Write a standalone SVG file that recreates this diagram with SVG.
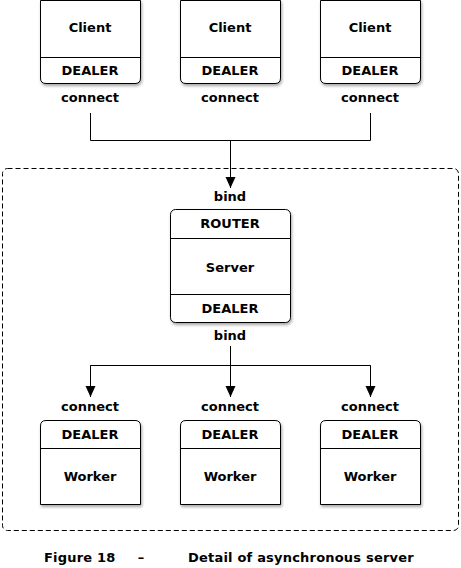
<svg xmlns="http://www.w3.org/2000/svg" width="461" height="568" viewBox="0 0 461 568">
<defs>
<style>
text{font-family:"DejaVu Sans","Liberation Sans",sans-serif;font-weight:bold;font-size:13px;fill:#000;text-anchor:middle}
.box{fill:#fff;stroke:#000;stroke-width:1}
.div{stroke:#000;stroke-width:1;fill:none}
.conn{stroke:#000;stroke-width:1;fill:none}
.frame{fill:none;stroke:#000;stroke-width:1;stroke-dasharray:5,3}
</style>
<filter id="sh" x="-10%" y="-10%" width="130%" height="130%">
<feDropShadow dx="1" dy="2" stdDeviation="1.5" flood-color="#000" flood-opacity="0.35"/>
</filter>
<marker id="arr" markerWidth="12" markerHeight="14" refX="11" refY="5" orient="auto" markerUnits="userSpaceOnUse">
<path d="M0,0 L11,5 L0,10 Z" fill="#000"/>
</marker>
</defs>
<rect class="frame" x="2.5" y="168.5" width="456" height="362" rx="5"/>
<g id="connectors">
<path class="conn" d="M90.5,113 V140.5 H370.5 V113"/>
<path class="conn" d="M230.5,140.5 V188" marker-end="url(#arr)"/>
<path class="conn" d="M230.5,346 V397" marker-end="url(#arr)"/>
<path class="conn" d="M90.5,397 V365.5 H370.5 V397"/>
<path class="conn" d="M90.5,365.5 V397" marker-end="url(#arr)"/>
<path class="conn" d="M370.5,365.5 V397" marker-end="url(#arr)"/>
</g>
<g id="client1">
<path class="box" filter="url(#sh)" d="M40.5,0.5 H140.5 V78 Q140.5,83.5 135,83.5 H46 Q40.5,83.5 40.5,78 Z"/>
<line class="div" x1="40.5" y1="57.5" x2="140.5" y2="57.5"/>
<text x="90" y="32">Client</text>
<text x="90" y="75">DEALER</text>
<text x="90" y="102">connect</text>
</g>
<g id="client2">
<path class="box" filter="url(#sh)" d="M180.5,0.5 H280.5 V78 Q280.5,83.5 275,83.5 H186 Q180.5,83.5 180.5,78 Z"/>
<line class="div" x1="180.5" y1="57.5" x2="280.5" y2="57.5"/>
<text x="230" y="32">Client</text>
<text x="230" y="75">DEALER</text>
<text x="230" y="102">connect</text>
</g>
<g id="client3">
<path class="box" filter="url(#sh)" d="M320.5,0.5 H420.5 V78 Q420.5,83.5 415,83.5 H326 Q320.5,83.5 320.5,78 Z"/>
<line class="div" x1="320.5" y1="57.5" x2="420.5" y2="57.5"/>
<text x="370" y="32">Client</text>
<text x="370" y="75">DEALER</text>
<text x="370" y="102">connect</text>
</g>
<g id="server">
<text x="230" y="201">bind</text>
<rect class="box" filter="url(#sh)" x="170.5" y="209.5" width="120" height="113" rx="5"/>
<line class="div" x1="170.5" y1="238.5" x2="290.5" y2="238.5"/>
<line class="div" x1="170.5" y1="294.5" x2="290.5" y2="294.5"/>
<text x="230" y="228">ROUTER</text>
<text x="230" y="272">Server</text>
<text x="230" y="313">DEALER</text>
<text x="230" y="340">bind</text>
</g>
<g id="worker1">
<text x="90" y="411">connect</text>
<path class="box" filter="url(#sh)" d="M40.5,504.5 V426 Q40.5,420.5 46,420.5 H135 Q140.5,420.5 140.5,426 V504.5 Z"/>
<line class="div" x1="40.5" y1="448.5" x2="140.5" y2="448.5"/>
<text x="90" y="439">DEALER</text>
<text x="90" y="481">Worker</text>
</g>
<g id="worker2">
<text x="230" y="411">connect</text>
<path class="box" filter="url(#sh)" d="M180.5,504.5 V426 Q180.5,420.5 186,420.5 H275 Q280.5,420.5 280.5,426 V504.5 Z"/>
<line class="div" x1="180.5" y1="448.5" x2="280.5" y2="448.5"/>
<text x="230" y="439">DEALER</text>
<text x="230" y="481">Worker</text>
</g>
<g id="worker3">
<text x="370" y="411">connect</text>
<path class="box" filter="url(#sh)" d="M320.5,504.5 V426 Q320.5,420.5 326,420.5 H415 Q420.5,420.5 420.5,426 V504.5 Z"/>
<line class="div" x1="320.5" y1="448.5" x2="420.5" y2="448.5"/>
<text x="370" y="439">DEALER</text>
<text x="370" y="481">Worker</text>
</g>
<g id="caption">
<text x="44" y="562" style="text-anchor:start;letter-spacing:0.2px">Figure 18</text>
<text x="141" y="562">–</text>
<text x="188" y="562" style="text-anchor:start;letter-spacing:0.2px">Detail of asynchronous server</text>
</g>
</svg>
